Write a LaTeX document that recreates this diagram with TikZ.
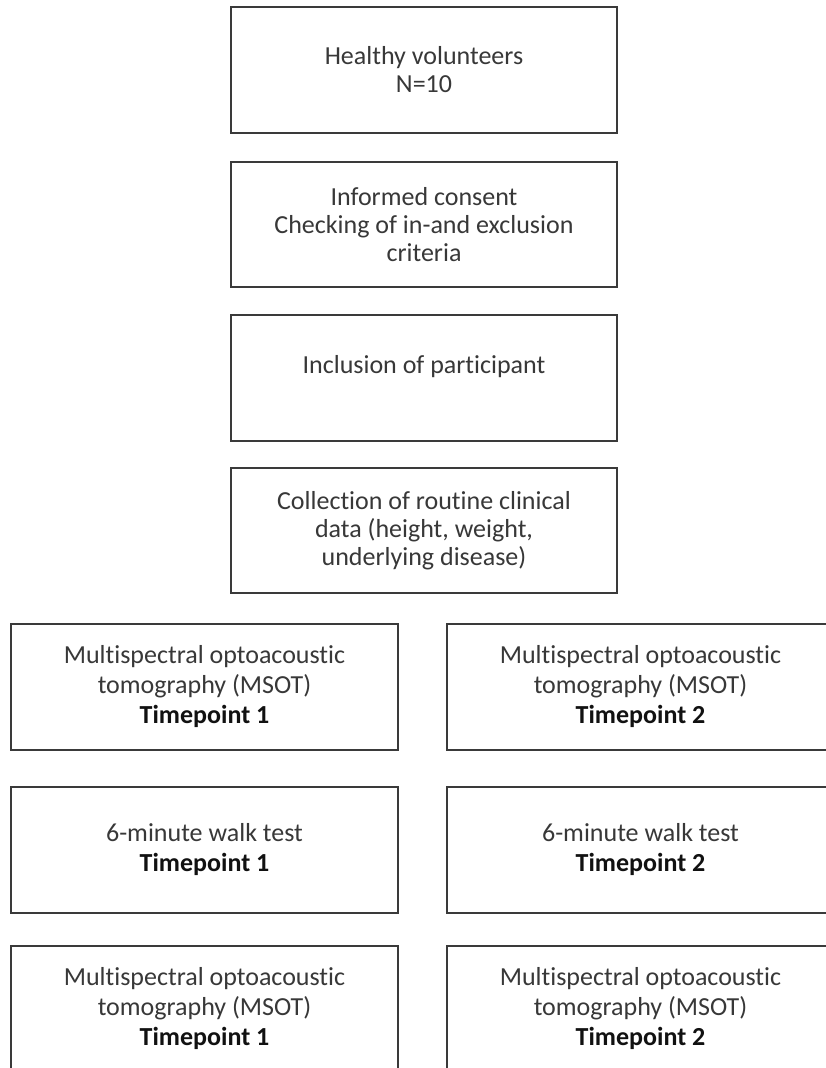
\documentclass[tikz,border=0pt]{standalone}
\usepackage{fontspec}
\setmainfont[Ligatures=NoCommon]{Carlito}
\usepackage{xcolor}
\definecolor{boxline}{HTML}{3A3A3A}
\definecolor{txt}{HTML}{383838}
\definecolor{boldtxt}{HTML}{111111}
\begin{document}
\begin{tikzpicture}[x=1pt,y=-1pt,
  stage/.style={draw=boxline, line width=1.3pt, rectangle, minimum width=386pt, minimum height=126pt,
    inner sep=0pt, align=center, text=txt, font=\fontsize{26}{28}\selectfont},
  wide/.style={stage, minimum width=387pt, font=\fontsize{26}{30}\selectfont},
]
\useasboundingbox (0,0) rectangle (826,1068);
\clip (0,0) rectangle (826,1068);
\fill[white] (0,0) rectangle (826,1068);
\newcommand{\tp}[1]{\textcolor{boldtxt}{\textbf{Timepoint #1}}}

\node[stage] (b1) at (424,70) {Healthy volunteers\\N=10};
\node[stage, minimum height=125pt] (b2) at (424,224.5) {Informed consent\\Checking of in-and exclusion\\criteria};
\node[stage] (b3) at (424,378) {Inclusion of participant\\\mbox{}};
\node[stage, minimum height=125pt] (b4) at (424,530.5) {Collection of routine clinical\\data (height, weight,\\underlying disease)};

\node[wide] (l1) at (204.5,687) {Multispectral optoacoustic\\tomography (MSOT)\\\tp{1}};
\node[wide] (r1) at (640.5,687) {Multispectral optoacoustic\\tomography (MSOT)\\\tp{2}};
\node[wide] (l2) at (204.5,850) {6-minute walk test\\\tp{1}};
\node[wide] (r2) at (640.5,850) {6-minute walk test\\\tp{2}};
\node[wide] (l3) at (204.5,1009) {Multispectral optoacoustic\\tomography (MSOT)\\\tp{1}};
\node[wide] (r3) at (640.5,1009) {Multispectral optoacoustic\\tomography (MSOT)\\\tp{2}};
\end{tikzpicture}
\end{document}
